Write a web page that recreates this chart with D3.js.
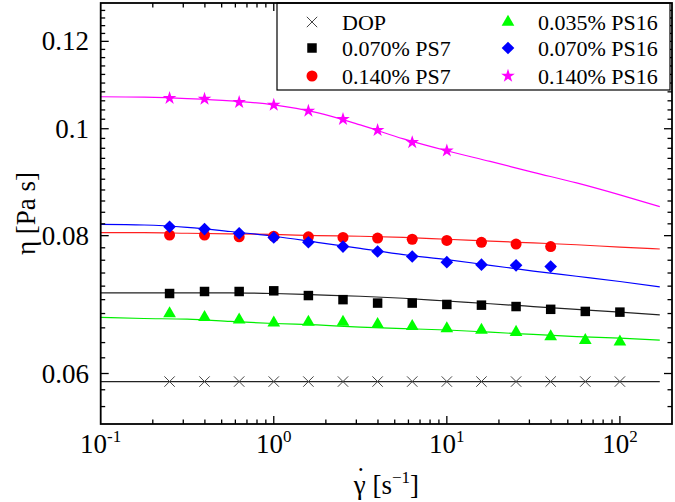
<!DOCTYPE html>
<html><head><meta charset="utf-8">
<script src="https://cdn.jsdelivr.net/npm/d3@7"></script>
<style>body{margin:0;background:#fff;}</style></head>
<body><svg id="c" width="675" height="502"></svg>
<script>
// ---- data ----
const rates = [0.25, 0.398, 0.631, 1, 1.585, 2.512, 3.981, 6.310, 10, 15.85, 25.12, 39.81, 63.10, 100];
const etaDOP      = [0.0590,0.0590,0.0590,0.0590,0.0590,0.0590,0.0590,0.0590,0.0590,0.0590,0.0590,0.0590,0.0590,0.0590];
const etaPS7_070  = [0.0709,0.0712,0.0712,0.0713,0.0706,0.0700,0.0695,0.0695,0.0693,0.0692,0.0690,0.0686,0.0683,0.0682];
const etaPS7_140  = [0.0801,0.0801,0.0798,0.0799,0.0798,0.0797,0.0796,0.0794,0.0792,0.0789,0.0786,0.0782];
const etaPS16_035 = [0.0680,0.06745,0.0671,0.0667,0.0668,0.0668,0.0665,0.0662,0.0659,0.0657,0.0654,0.0648,0.0643,0.0641];
const etaPS16_070 = [0.0815,0.0811,0.0804,0.0797,0.0789,0.0782,0.0774,0.0766,0.0757,0.0753,0.0752,0.0750];
const etaPS16_140 = [0.1066,0.1064,0.1057,0.1051,0.1038,0.1020,0.0997,0.0972,0.0955];

// fitted curves
const fitX        = [0.1, 0.178, 0.316, 0.562, 1, 1.78, 3.16, 5.62, 10, 17.8, 31.6, 56.2, 100, 170];
const fitDOP      = [0.0590,0.0590,0.0590,0.0590,0.0590,0.0590,0.0590,0.0590,0.0590,0.0590,0.0590,0.0590,0.0590,0.0590];
const fitPS7_070  = [0.0710,0.0710,0.0710,0.0710,0.0709,0.0707,0.0705,0.0702,0.0698,0.0694,0.0690,0.0686,0.0682,0.0678];
const fitPS7_140  = [0.0805,0.0805,0.0804,0.0803,0.0802,0.0800,0.0799,0.0797,0.0794,0.0791,0.0788,0.0785,0.0781,0.0778];
const fitPS16_035 = [0.06745,0.0673,0.0672,0.0669,0.0666,0.0664,0.0661,0.0659,0.0657,0.0654,0.0651,0.0648,0.0646,0.06434];
const fitPS16_070 = [0.0819,0.0818,0.0814,0.0807,0.0799,0.0789,0.0779,0.0769,0.0761,0.0752,0.0743,0.0735,0.0727,0.0719];
const fitPS16_140 = [0.1069,0.1068,0.1065,0.1060,0.1051,0.1034,0.1008,0.0979,0.0955,0.0934,0.0913,0.0893,0.0871,0.0850];

const yTickVals = [0.06, 0.08, 0.1, 0.12];
const yTickLabels = ["0.06", "0.08", "0.1", "0.12"];
const xTickExps = ["-1", "0", "1", "2"];

const series = [
  {name:"DOP",          pts:etaDOP,      fit:fitDOP,      color:"#000", line:"#222", shape:"x"},
  {name:"0.070% PS7",   pts:etaPS7_070,  fit:fitPS7_070,  color:"#000", line:"#222", shape:"square"},
  {name:"0.140% PS7",   pts:etaPS7_140,  fit:fitPS7_140,  color:"#ff0000", line:"#ff2020", shape:"circle"},
  {name:"0.035% PS16",  pts:etaPS16_035, fit:fitPS16_035, color:"#00ff00", line:"#00ee00", shape:"triangle"},
  {name:"0.070% PS16",  pts:etaPS16_070, fit:fitPS16_070, color:"#0000ff", line:"#0000ff", shape:"diamond"},
  {name:"0.140% PS16",  pts:etaPS16_140, fit:fitPS16_140, color:"#ff00ff", line:"#ff00ff", shape:"star"}
];

const FONT = "'Liberation Serif', serif";

// ---- layout ----
const L = 100.7, R = 672, T = 3, B = 424;
const svg = d3.select("#c");
const x = d3.scaleLog().domain([0.1, 200]).range([L, R]);
const y = d3.scaleLog().domain([0.054, 0.13]).range([B, T]);

svg.append("clipPath").attr("id","clip").append("rect")
  .attr("x",L).attr("y",T).attr("width",R-L).attr("height",B-T);

function symPath(shape){
  switch(shape){
    case "x": return d3.symbol(d3.symbolTimes, 72)();
    case "square": return d3.symbol(d3.symbolSquare, 90)();
    case "circle": return d3.symbol(d3.symbolCircle, 95)();
    case "triangle": return d3.symbol(d3.symbolTriangle, 70)();
    case "diamond": return d3.symbol(d3.symbolSquare, 80)();
    case "star": return d3.symbol(d3.symbolStar, 58)();
  }
}
function drawMarker(g, shape, color, cx, cy){
  const p = g.append("path").attr("d", symPath(shape))
    .attr("transform", `translate(${cx},${cy})` + (shape==="diamond" ? " rotate(45)" : ""));
  if(shape==="x") p.attr("fill","none").attr("stroke","#444").attr("stroke-width",1);
  else p.attr("fill", color).attr("stroke","none");
}
function txt(g){ return g.append("text").style("font-family", FONT).attr("fill","#000"); }

// ---- fitted lines ----
const lineGen = d3.line().x(d=>x(d[0])).y(d=>y(d[1])).curve(d3.curveMonotoneX);
const gl = svg.append("g").attr("clip-path","url(#clip)");
series.forEach(s=>{
  gl.append("path").attr("d", lineGen(fitX.map((v,i)=>[v, s.fit[i]])))
    .attr("fill","none").attr("stroke", s.line).attr("stroke-width",1.2);
});

// ---- markers ----
const gm = svg.append("g");
series.forEach(s=>{
  s.pts.forEach((v,i)=> drawMarker(gm, s.shape, s.color, x(rates[i]), y(v)));
});

// ---- axes ----
const ga = svg.append("g");
const minorY = d3.range(0.054, 0.1301, 0.002).map(v=>+v.toFixed(3));
minorY.forEach(v=>{
  const major = yTickVals.some(t=>Math.abs(t-v)<1e-9);
  const len = major ? 8 : 4.5;
  const yy = y(v);
  if (yy < T+0.5 || yy > B-0.5) return;
  ga.append("line").attr("x1",L).attr("x2",L+len).attr("y1",yy).attr("y2",yy).attr("stroke","#000").attr("stroke-width",1.3);
  ga.append("line").attr("x1",R).attr("x2",R-len).attr("y1",yy).attr("y2",yy).attr("stroke","#000").attr("stroke-width",1.3);
});
const xTicks = [];
[0.1,1,10,100].forEach(d=>{ for(let k=1;k<10;k++){ const v=d*k; if(v<200) xTicks.push({v, major:k===1}); } });
xTicks.forEach(t=>{
  const xx = x(t.v);
  if (xx < L+0.5 || xx > R-0.5) return;
  const len = t.major ? 8 : 4.5;
  ga.append("line").attr("x1",xx).attr("x2",xx).attr("y1",B).attr("y2",B-len).attr("stroke","#000").attr("stroke-width",1.3);
  ga.append("line").attr("x1",xx).attr("x2",xx).attr("y1",T).attr("y2",T+len).attr("stroke","#000").attr("stroke-width",1.3);
});

// y tick labels
yTickVals.forEach((v,i)=>{
  txt(ga).attr("x",89).attr("y",y(v)+9).attr("text-anchor","end")
    .attr("font-size",27).text(yTickLabels[i]);
});
// x tick labels
xTickExps.forEach((e,i)=>{
  const t = txt(ga).attr("x", x(Math.pow(10, i-1)) ).attr("y",453)
    .attr("text-anchor","middle").attr("font-size",27);
  t.append("tspan").text("10");
  t.append("tspan").attr("dy",-11).attr("font-size",17).text(e);
});

// ---- legend ----
const lg = svg.append("g");
lg.append("rect").attr("x",277).attr("y",T).attr("width",393).attr("height",87)
  .attr("fill","#fff").attr("stroke","#000").attr("stroke-width",1.2);
const legCols = [{sx:312, tx:342},{sx:508, tx:538}];
const legRows = [22, 48, 76];
series.forEach((s,k)=>{
  const col = legCols[Math.floor(k/3)], ry = legRows[k%3];
  drawMarker(lg, s.shape, s.color, col.sx, ry);
  txt(lg).attr("x",col.tx).attr("y",ry+7.5).attr("font-size",22).text(s.name);
});

// frame
svg.append("rect").attr("x",L).attr("y",T).attr("width",R-L).attr("height",B-T)
  .attr("fill","none").attr("stroke","#000").attr("stroke-width",1.8);

// axis titles
txt(svg).attr("transform",`translate(35,${(T+B)/2}) rotate(-90)`)
  .attr("text-anchor","middle").attr("font-size",27).text("η [Pa s]");

const xt = txt(svg).attr("x",(L+R)/2).attr("y",494).attr("text-anchor","middle").attr("font-size",27);
xt.append("tspan").attr("id","gam").text("γ");
xt.append("tspan").text(" [s");
xt.append("tspan").attr("dy",-11).attr("font-size",17).text("−1");
xt.append("tspan").attr("dy",11).text("]");
// dot above gamma, as part of the same title text
const gnode = document.getElementById("gam");
let ext = null;
try { ext = gnode.getExtentOfChar(0); } catch(e) {}
const dotX = ext ? ext.x + ext.width/2 + 1 : (L+R)/2 - 25;
xt.append("tspan").attr("x", dotX).attr("y", 486).text("˙");
</script></body></html>
